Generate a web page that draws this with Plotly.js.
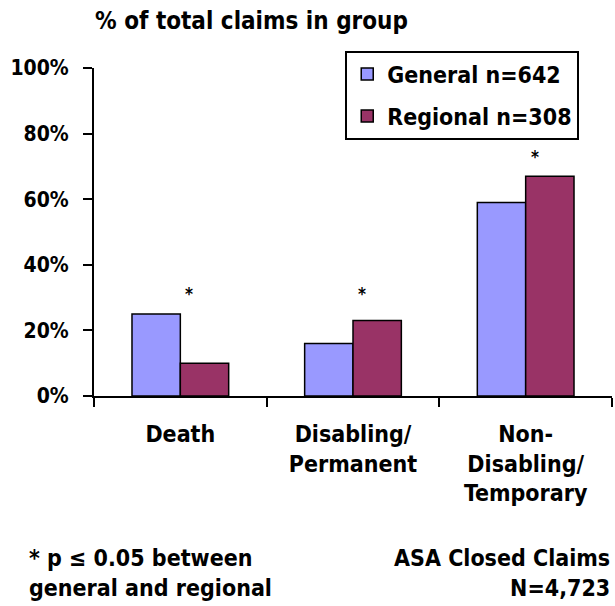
<!DOCTYPE html>
<html>
<head>
<meta charset="utf-8">
<script src="https://cdn.plot.ly/plotly-3.0.1.min.js"></script>
<style>
html,body{margin:0;padding:0;background:#fff;}
#chart{width:615px;height:606px;}
</style>
</head>
<body>
<div id="chart"></div>
<script>
// ---- data ----
const categories = ["Death", "Disabling/<br>Permanent", "Non-<br>Disabling/<br>Temporary"];
const generalValues = [25, 16, 59];
const regionalValues = [10, 23, 67];
const seriesNames = ["General n=642", "Regional n=308"];
const yTickVals = [0, 20, 40, 60, 80, 100];
const yTickText = ["0%", "20%", "40%", "60%", "80%", "100%"];
const significant = [0, 1, 2];          // categories marked with *
const starLevels = [31, 31, 73];        // height of * marks (%)
const yTitle = "% of total claims in group";
const footLeft = "* p \u2264 0.05 between<br>general and regional";
const footRight = "ASA Closed Claims<br>N=4,723";

const FONT = "DejaVu Sans Condensed, Liberation Sans Narrow, Arial Narrow, sans-serif";
const font = (s) => ({family: FONT, size: s, color: "#000", weight: "bold"});

const traces = [
  {type: "bar", x: categories, y: generalValues, name: seriesNames[0],
   marker: {color: "#9999FF", line: {color: "#000", width: 1.5}},
   legendgroup: "g", hoverinfo: "skip"},
  {type: "bar", x: categories, y: regionalValues, name: seriesNames[1],
   marker: {color: "#993366", line: {color: "#000", width: 1.5}},
   legendgroup: "r", hoverinfo: "skip"}
];

const annotations = significant.map((ci, k) => ({
  x: categories[ci], y: starLevels[k], xref: "x", yref: "y",
  text: "*", showarrow: false, font: font(17), xshift: 9
}));
annotations.push(
  {xref: "paper", yref: "paper", x: 0.305, y: 1, yshift: 47, xanchor: "center", yanchor: "middle",
   text: yTitle, showarrow: false, font: font(24)},
  {xref: "paper", yref: "paper", x: -0.13, y: 0, yshift: -177, xanchor: "left", yanchor: "middle",
   text: footLeft, showarrow: false, align: "left", font: font(23)},
  {xref: "paper", yref: "paper", x: 1, y: 0, yshift: -177, xanchor: "right", yanchor: "middle",
   text: footRight, showarrow: false, align: "right", font: font(23)}
);

const layout = {
  width: 615, height: 606,
  margin: {l: 94, r: 3, t: 68, b: 210},
  paper_bgcolor: "#fff", plot_bgcolor: "#fff",
  barmode: "group", bargap: 0.44, bargroupgap: 0,
  showlegend: true,
  legend: {x: 0.485, y: 1.053, xanchor: "left", yanchor: "top",
    bordercolor: "#000", borderwidth: 2, bgcolor: "#fff",
    font: font(23), tracegroupgap: 9, traceorder: "grouped", itemwidth: 30},
  xaxis: {type: "category", range: [-0.5, 2.5], showline: true, linecolor: "#000", linewidth: 2,
    ticks: "outside", tickson: "boundaries", ticklen: 9, tickwidth: 2, tickcolor: "#000",
    tickfont: font(23), showgrid: false, zeroline: false, fixedrange: true, ticklabelstandoff: 16},
  yaxis: {range: [0, 100], tickvals: yTickVals, ticktext: yTickText,
    showline: true, linecolor: "#000", linewidth: 2, ticks: "outside", ticklen: 9, tickwidth: 2,
    tickcolor: "#000", tickfont: font(21), showgrid: false, zeroline: false, fixedrange: true,
    ticklabelstandoff: 10},
  annotations: annotations
};

Plotly.newPlot("chart", traces, layout, {displayModeBar: false, staticPlot: true});
</script>
</body>
</html>
